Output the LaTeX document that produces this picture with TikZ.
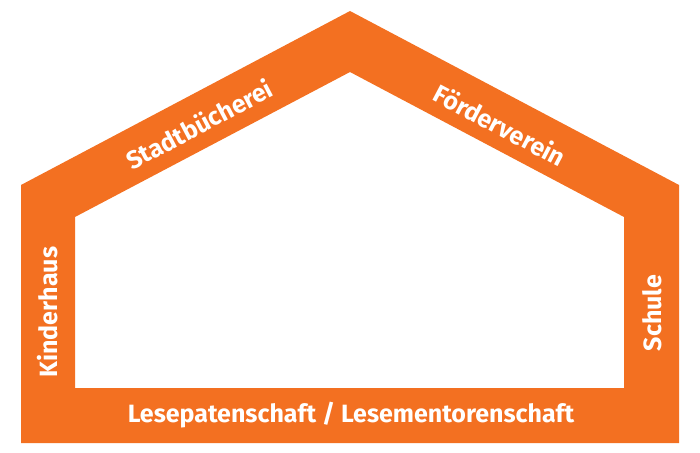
\documentclass[tikz,border=0pt]{standalone}
\usepackage{fontspec}
\setmainfont{Fira Sans}
\definecolor{houseorange}{RGB}{243,112,33}
\begin{document}
\begin{tikzpicture}[x=1pt,y=-1pt,
  lbl/.style={text=white,font=\fontsize{25}{29}\selectfont\bfseries,inner sep=0pt}]
\useasboundingbox (0,0) rectangle (700,452);
\fill[houseorange,even odd rule]
  (21,443) -- (21,185) -- (350,11) -- (679,185) -- (679,443) -- cycle
  (75,388) -- (75,217) -- (350,72) -- (624,217) -- (624,388) -- cycle;
\node[lbl,rotate=27.8] (stadt) at (199,124) {Stadtbücherei};
\node[lbl,rotate=-27.8] (foerder) at (500,125) {Förderverein};
\node[lbl,rotate=90] (kinder) at (48,312) {Kinderhaus};
\node[lbl,rotate=90] (schule) at (652,313) {Schule};
\node[lbl] (lese) at (351,415) {Lesepatenschaft / Lesementorenschaft};
\end{tikzpicture}
\end{document}
